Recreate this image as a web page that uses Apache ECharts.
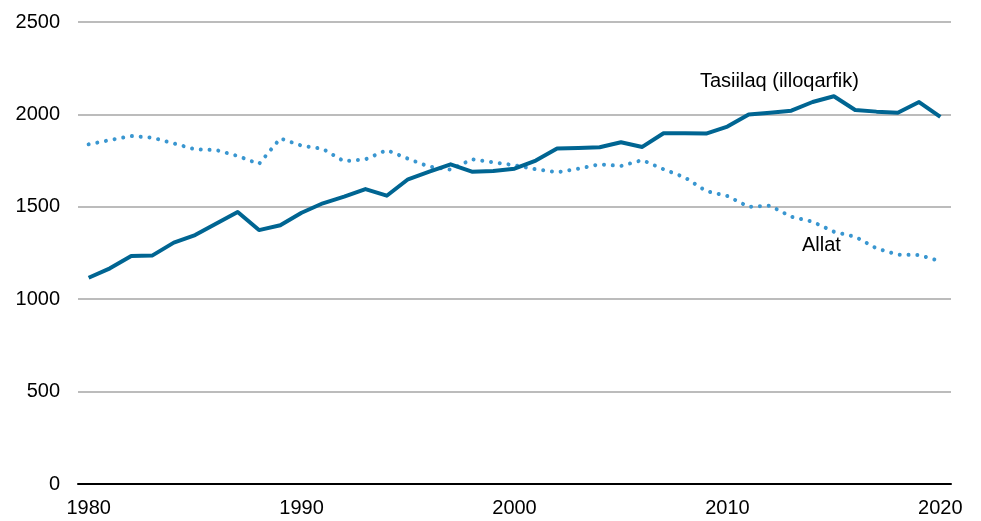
<!DOCTYPE html>
<html>
<head>
<meta charset="utf-8">
<script src="https://cdn.jsdelivr.net/npm/echarts@6/dist/echarts.min.js"></script>
<style>
  html, body { margin: 0; padding: 0; background: #fff; }
  #chart { width: 981px; height: 521px; }
</style>
</head>
<body>
<div id="chart"></div>
<script>
var years = [];
for (var y = 1980; y <= 2020; y++) years.push(String(y));

// Tasiilaq (illoqarfik)
var tasiilaq = [1116, 1167, 1234, 1237, 1306, 1347, 1410, 1472, 1374, 1400,
    1468, 1519, 1555, 1596, 1560, 1649, 1690, 1730, 1690, 1694,
    1706, 1750, 1815, 1818, 1822, 1849, 1824, 1898, 1898, 1896,
    1934, 2000, 2009, 2020, 2067, 2098, 2024, 2015, 2009, 2067, 1986];

// Allat
var allat = [1838, 1861, 1883, 1874, 1843, 1811, 1807, 1775, 1732, 1870,
    1831, 1813, 1746, 1757, 1807, 1760, 1717, 1701, 1757, 1741,
    1725, 1703, 1687, 1706, 1730, 1721, 1753, 1703, 1659, 1585,
    1558, 1500, 1506, 1446, 1419, 1365, 1338, 1275, 1241, 1239, 1205];

var yTicks = [0, 500, 1000, 1500, 2000, 2500];

var font = 'Liberation Sans, Arial, sans-serif';

var option = {
    backgroundColor: '#ffffff',
    animation: false,
    grid: {
        left: 78,
        right: 30,
        top: 22,
        bottom: 37
    },
    xAxis: {
        type: 'category',
        data: years,
        boundaryGap: true,
        axisLine: {lineStyle: {color: '#000', width: 2}},
        axisTick: {show: false},
        axisLabel: {
            interval: 9,
            color: '#000',
            fontSize: 20,
            fontFamily: font,
            margin: 14
        },
        splitLine: {show: false}
    },
    yAxis: {
        type: 'value',
        min: yTicks[0],
        max: yTicks[yTicks.length - 1],
        interval: 500,
        axisLine: {show: false},
        axisTick: {show: false},
        axisLabel: {
            color: '#000',
            fontSize: 20,
            fontFamily: font,
            margin: 18,
            formatter: function (v) { return String(v); }
        },
        splitLine: {lineStyle: {color: '#a6a6a6', width: 1.5}}
    },
    series: [
        {
            name: 'Allat',
            type: 'line',
            data: allat,
            symbol: 'none',
            z: 2,
            lineStyle: {
                color: '#3996d0',
                width: 4,
                type: [0.01, 8.8],
                cap: 'round'
            }
        },
        {
            name: 'Tasiilaq (illoqarfik)',
            type: 'line',
            data: tasiilaq,
            symbol: 'none',
            z: 3,
            lineStyle: {
                color: '#006592',
                width: 4,
                join: 'round'
            }
        }
    ],
    graphic: [
        {
            type: 'text',
            left: 700,
            top: 71,
            style: {text: 'Tasiilaq (illoqarfik)', fill: '#000', font: '20px ' + font}
        },
        {
            type: 'text',
            left: 802,
            top: 235,
            style: {text: 'Allat', fill: '#000', font: '20px ' + font}
        }
    ]
};

var chart = echarts.init(document.getElementById('chart'));
chart.setOption(option);
</script>
</body>
</html>
